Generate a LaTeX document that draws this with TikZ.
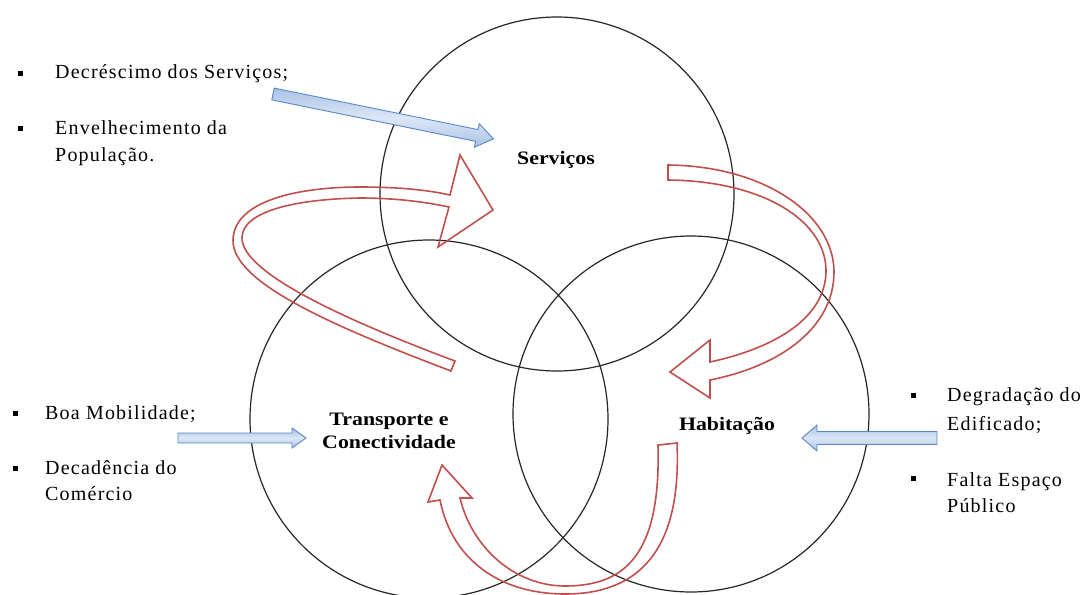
\documentclass[tikz,border=0pt]{standalone}
\usepackage{fontspec}
\setmainfont{Liberation Serif}
\newfontfamily\bodyfont{Liberation Serif}[LetterSpace=6]
\newfontfamily\labelfont{Liberation Serif}[FakeStretch=1.15]
\definecolor{redline}{HTML}{C0504D}
\definecolor{blueline}{HTML}{5B87C6}
\definecolor{bluelight}{HTML}{DCE7F6}
\definecolor{bluemid}{HTML}{A9C2E6}
\pgfdeclareradialshading{ringshade}{\pgfpoint{0bp}{0bp}}{color(0bp)=(white); color(38bp)=(white); color(50bp)=(black!9)}
\tikzset{
  vcircle/.style={circle, draw=black!85, line width=1.2pt, inner sep=0pt},
  redarrow/.style={draw=redline, line width=1.6pt, line join=miter},
  bluearrow/.style={draw=blueline, line width=0.9pt, top color=bluemid, bottom color=bluemid, middle color=bluelight},
  bodytext/.style={anchor=base west, inner sep=0pt, font=\bodyfont\fontsize{20}{27}\selectfont},
  labeltext/.style={anchor=base, inner sep=0pt, font=\labelfont\bfseries\fontsize{19}{22}\selectfont},
  bulletsq/.style={fill=black, minimum size=5pt, inner sep=0pt},
}
\newcommand\BlueArrow[7]{%
  \begin{scope}[shift={(#1,#2)},rotate=#3]
    \path[bluearrow] (0,-#5) -- ({#4-#7},-#5) -- ({#4-#7},-#6) -- (#4,0) -- ({#4-#7},#6) -- ({#4-#7},#5) -- (0,#5) -- cycle;
  \end{scope}}
\begin{document}
\begin{tikzpicture}[x=1pt,y=-1pt]
\useasboundingbox (0,0) rectangle (1091,594);
\clip (0,0) rectangle (1091,594);
\fill[white] (0,0) rectangle (1091,594);
% circle centres
\coordinate (cS) at (557,194);
\coordinate (cT) at (429,419);
\coordinate (cH) at (691,414);
% soft shading
\path[shading=ringshade, fill opacity=0.7] (cS) circle[radius=177pt];
\path[shading=ringshade, fill opacity=0.7] (cT) circle[radius=179pt];
\path[shading=ringshade, fill opacity=0.7] (cH) circle[radius=178pt];
% circles
\node[vcircle, minimum size=354pt] (S) at (cS) {};
\node[vcircle, minimum size=358pt] (T) at (cT) {};
\node[vcircle, minimum size=356pt] (H) at (cH) {};
% red curved arrows
\draw[redarrow] (451,371) .. controls (330,325) and (232,282) .. (233,240)
  .. controls (234,200) and (300,187) .. (360,187)
  .. controls (405,187) and (432,191) .. (450,195)
  -- (460,155) -- (493,210) -- (438,247) -- (449,207)
  .. controls (430,203) and (400,198) .. (360,198)
  .. controls (300,199) and (242,210) .. (242,238)
  .. controls (242,272) and (340,318) .. (455,361) -- cycle;
\draw[redarrow] (668,165) .. controls (765,166) and (834,215) .. (834,272)
  .. controls (834,325) and (785,365) .. (710,380)
  -- (710,398) -- (670,372) -- (710,340) -- (710,362)
  .. controls (775,348) and (825,318) .. (826,272)
  .. controls (827,222) and (765,181) .. (668,180) -- cycle;
\draw[redarrow] (677,443) .. controls (682,555) and (635,594) .. (565,594)
  .. controls (500,594) and (452,560) .. (440,500)
  -- (428,502) -- (442,465) -- (472,498) -- (460,498)
  .. controls (472,548) and (515,586) .. (565,586)
  .. controls (625,586) and (661,555) .. (658,445) -- cycle;
% blue block arrows
\BlueArrow{273}{94}{-11.5}{225}{6}{12}{17}
\BlueArrow{178}{438}{0}{128}{5}{10}{14}
\BlueArrow{937}{438}{180}{135}{6.5}{13}{15}
% circle labels
\node[labeltext] (ls) at (556,164) {Serviços};
\node[labeltext] (lt1) at (389,425) {Transporte e};
\node[labeltext] (lt2) at (389,448) {Conectividade};
\node[labeltext] (lh) at (727,430) {Habitação};
% bullet lists
\node[bulletsq] (b1) at (20,73) {};
\node[bodytext] (t1) at (55,78) {Decréscimo dos Serviços;};
\node[bulletsq] (b2) at (20,128) {};
\node[bodytext] (t2) at (55,134) {Envelhecimento da};
\node[bodytext] (t3) at (55,161) {População.};
\node[bulletsq] (b3) at (15,413) {};
\node[bodytext] (t4) at (45,419) {Boa Mobilidade;};
\node[bulletsq] (b4) at (15,468) {};
\node[bodytext] (t5) at (45,474) {Decadência do};
\node[bodytext] (t6) at (45,500) {Comércio};
\node[bulletsq] (b5) at (913,395) {};
\node[bodytext] (t7) at (947,401) {Degradação do};
\node[bodytext] (t8) at (947,430) {Edificado;};
\node[bulletsq] (b6) at (913,478) {};
\node[bodytext] (t9) at (947,486) {Falta Espaço};
\node[bodytext] (t10) at (947,512) {Público};
\end{tikzpicture}
\end{document}
